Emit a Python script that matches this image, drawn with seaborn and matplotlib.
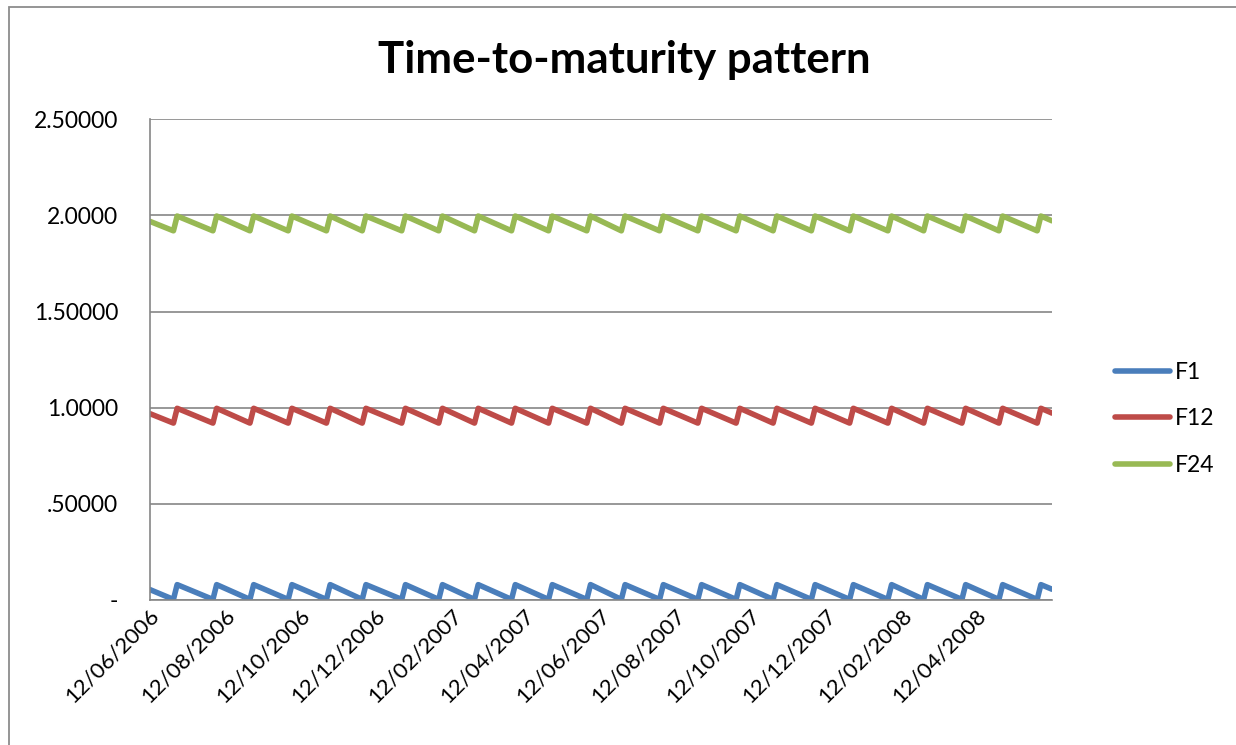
import matplotlib
matplotlib.use("Agg")
import matplotlib.pyplot as plt
import matplotlib.transforms as mtransforms
from matplotlib.lines import Line2D
from matplotlib.patches import Rectangle
import seaborn as sns
import pandas as pd

# ---------------- data (vertices of the daily series) -------------
dates = [
    "2006-06-12",
    "2006-07-01", "2006-07-04",
    "2006-08-02", "2006-08-05",
    "2006-09-01", "2006-09-04",
    "2006-10-02", "2006-10-05",
    "2006-11-02", "2006-11-05",
    "2006-12-01", "2006-12-04",
    "2007-01-02", "2007-01-05",
    "2007-02-01", "2007-02-04",
    "2007-03-02", "2007-03-05",
    "2007-04-01", "2007-04-04",
    "2007-05-01", "2007-05-04",
    "2007-06-01", "2007-06-04",
    "2007-06-29", "2007-07-02",
    "2007-07-30", "2007-08-02",
    "2007-08-30", "2007-09-02",
    "2007-09-30", "2007-10-03",
    "2007-10-30", "2007-11-02",
    "2007-11-30", "2007-12-03",
    "2007-12-31", "2008-01-03",
    "2008-01-31", "2008-02-03",
    "2008-02-29", "2008-03-03",
    "2008-03-31", "2008-04-03",
    "2008-04-30", "2008-05-03",
    "2008-05-31", "2008-06-03",
    "2008-06-12",
]

f1 = [0.054,
      0.003, 0.080, 0.003, 0.080, 0.003, 0.080, 0.003, 0.080,
      0.003, 0.080, 0.003, 0.080, 0.003, 0.080, 0.003, 0.080,
      0.003, 0.080, 0.003, 0.080, 0.003, 0.080, 0.003, 0.080,
      0.003, 0.080, 0.003, 0.080, 0.003, 0.080, 0.003, 0.080,
      0.003, 0.080, 0.003, 0.080, 0.003, 0.080, 0.003, 0.080,
      0.003, 0.080, 0.003, 0.080, 0.003, 0.080, 0.003, 0.080,
      0.056]

f12 = [0.969,
       0.920, 0.997, 0.920, 0.997, 0.920, 0.997, 0.920, 0.997,
       0.920, 0.997, 0.920, 0.997, 0.920, 0.997, 0.920, 0.997,
       0.920, 0.997, 0.920, 0.997, 0.920, 0.997, 0.920, 0.997,
       0.920, 0.997, 0.920, 0.997, 0.920, 0.997, 0.920, 0.997,
       0.920, 0.997, 0.920, 0.997, 0.920, 0.997, 0.920, 0.997,
       0.920, 0.997, 0.920, 0.997, 0.920, 0.997, 0.920, 0.997,
       0.972]

f24 = [1.969,
       1.920, 1.997, 1.920, 1.997, 1.920, 1.997, 1.920, 1.997,
       1.920, 1.997, 1.920, 1.997, 1.920, 1.997, 1.920, 1.997,
       1.920, 1.997, 1.920, 1.997, 1.920, 1.997, 1.920, 1.997,
       1.920, 1.997, 1.920, 1.997, 1.920, 1.997, 1.920, 1.997,
       1.920, 1.997, 1.920, 1.997, 1.920, 1.997, 1.920, 1.997,
       1.920, 1.997, 1.920, 1.997, 1.920, 1.997, 1.920, 1.997,
       1.972]

series_names = ["F1", "F12", "F24"]
colors = ["#4A7EBB", "#BE4B48", "#98B954"]

x_tick_labels = ["12/06/2006", "12/08/2006", "12/10/2006", "12/12/2006",
                 "12/02/2007", "12/04/2007", "12/06/2007", "12/08/2007",
                 "12/10/2007", "12/12/2007", "12/02/2008", "12/04/2008"]
x_end = "12/06/2008"

y_ticks = [0.0, 0.5, 1.0, 1.5, 2.0, 2.5]
y_tick_labels = ["-", ".50000", "1.0000", "1.50000", "2.0000", "2.50000"]

title = "Time-to-maturity pattern"

# ---------------- build long table ----------------
frames = []
for name, vals in zip(series_names, [f1, f12, f24]):
    frames.append(pd.DataFrame({"date": pd.to_datetime(dates), "value": vals, "series": name}))
df = pd.concat(frames, ignore_index=True)

# ---------------- plot ----------------
sns.set_theme(style="white")
plt.rcParams["font.family"] = ["Lato", "DejaVu Sans"]
plt.rcParams["text.color"] = "black"

W, H = 1236, 745
fig = plt.figure(figsize=(W / 100, H / 100), dpi=100)
ax = fig.add_axes([150 / W, 1 - 600 / H, (1052 - 150) / W, (600 - 119.3) / H])

grey = "#868686"
LW = 4.0
FS = 16.5
FSX = 16.0
palette = dict(zip(series_names, colors))
sns.lineplot(data=df, x="date", y="value", hue="series", palette=palette,
             estimator=None, sort=False, linewidth=LW, legend=False, ax=ax,
             solid_joinstyle="round", solid_capstyle="round")

xt = pd.to_datetime(x_tick_labels + [x_end], dayfirst=True)
ax.set_xlim(xt[0], xt[-1])
ax.set_xticks(xt)
ax.set_xticklabels(x_tick_labels + [""], rotation=45, ha="right",
                   rotation_mode="anchor", va="center", fontsize=FSX)
ax.set_ylim(0, 2.5)
ax.set_yticks(y_ticks)
ax.set_yticklabels(y_tick_labels, fontsize=FS)
ax.set_xlabel("")
ax.set_ylabel("")

ax.yaxis.grid(True, color=grey, linewidth=1.2)
ax.xaxis.grid(False)
ax.set_axisbelow(True)
for s in ["top", "right"]:
    ax.spines[s].set_visible(False)
for s in ["left", "bottom"]:
    ax.spines[s].set_color(grey)
    ax.spines[s].set_linewidth(1.2)
ax.tick_params(axis="both", direction="out", length=6, width=1.2, color=grey,
               labelcolor="black")
ax.tick_params(axis="y", pad=17)
ax.tick_params(axis="x", pad=3)

offset = mtransforms.ScaledTranslation(0.06, 0.0, fig.dpi_scale_trans)
for lab in ax.get_xticklabels():
    lab.set_transform(lab.get_transform() + offset)

fig.text(624 / W, 1 - 60 / H, title, ha="center", va="center",
         fontsize=31.5, fontweight="bold", color="black")

handles = [Line2D([], [], color=c, lw=LW, solid_capstyle="round") for c in colors]
leg = fig.legend(handles, series_names, loc="center left",
                 bbox_to_anchor=(1115 / W, 1 - 419 / H), frameon=False, fontsize=FS,
                 handlelength=2.4, handletextpad=0.22, labelspacing=1.13,
                 borderpad=0, borderaxespad=0)
for t in leg.get_texts():
    t.set_color("black")

fig.patches.append(Rectangle((8.5 / W, -0.1), 2, 1 - 6.7 / H + 0.1,
                             transform=fig.transFigure, fill=False,
                             edgecolor="#8c8c8c", linewidth=1.3))

fig.savefig("out.png", dpi=100)
